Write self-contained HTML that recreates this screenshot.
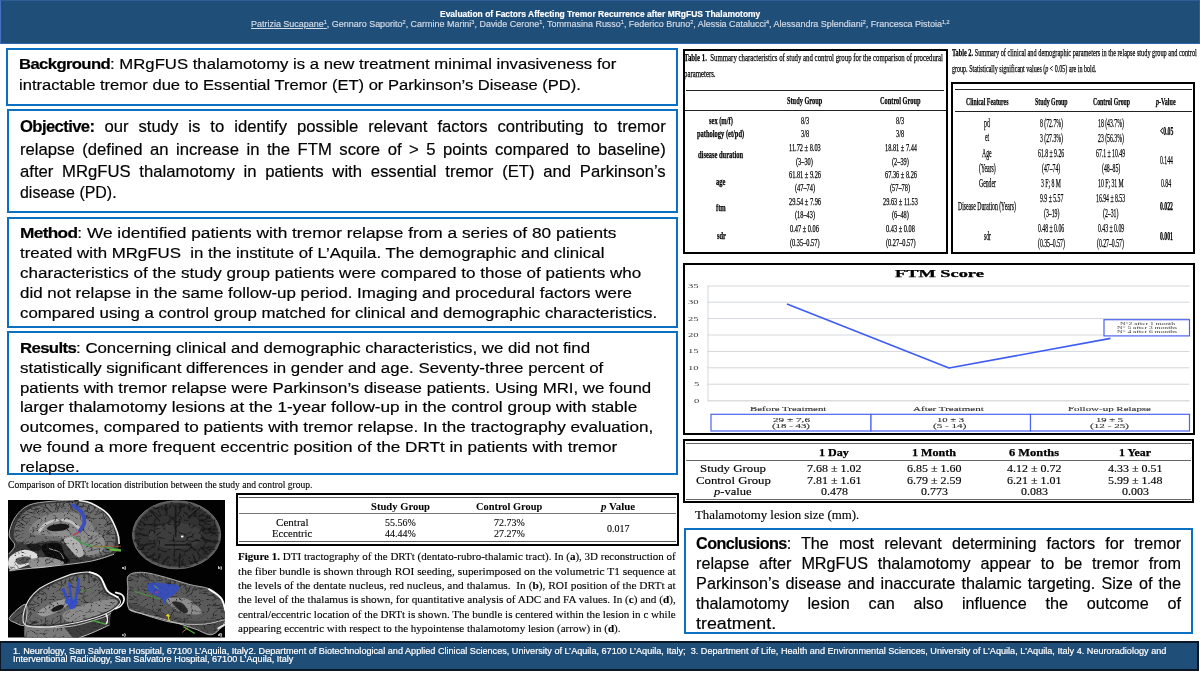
<!DOCTYPE html>
<html lang="en">
<head>
<meta charset="utf-8">
<title>Evaluation of Factors Affecting Tremor Recurrence after MRgFUS Thalamotomy</title>
<style>
html,body{margin:0;padding:0;}
body{width:1200px;height:675px;position:relative;overflow:hidden;background:#fff;font-family:"Liberation Sans",sans-serif;}
.t{position:absolute;white-space:nowrap;line-height:1.2;transform-origin:0 50%;}
.t sup{font-size:62%;line-height:0;vertical-align:baseline;position:relative;top:-0.5em;}
.t b.k{letter-spacing:-0.6px;}
.box{position:absolute;box-sizing:border-box;background:#fff;}
.bb{border:2px solid #0b70c2;}
.kb{border:2px solid #000;}
.hl{position:absolute;height:1px;background:#222;}
#hdr{position:absolute;left:0;top:0;width:1200px;height:43.5px;box-sizing:border-box;background:#1f4e79;border:1px solid #2f5f97;border-left:1.5px solid #4470c0;border-bottom:1.5px solid #3566b4;}
#ftr{position:absolute;left:-1px;top:640.5px;width:1200px;height:30px;box-sizing:border-box;background:#1f4e79;border:2px solid #0c1624;}
svg{position:absolute;overflow:visible;}
</style>
</head>
<body>
<div id="hdr"></div>
<!-- left column boxes -->
<div class="box bb" style="left:6px;top:48px;width:672px;height:58px"></div>
<div class="box bb" style="left:7px;top:109px;width:671px;height:104px"></div>
<div class="box bb" style="left:7px;top:217px;width:671px;height:111px"></div>
<div class="box bb" style="left:7px;top:331.4px;width:671px;height:144px"></div>
<!-- table 1 -->
<div class="box kb" style="left:683px;top:49px;width:265px;height:205px"></div>
<div class="hl" style="left:686px;top:90px;width:258px"></div>
<div class="hl" style="left:685px;top:110px;width:261px"></div>
<!-- table 2 -->
<div class="box kb" style="left:951.3px;top:82.4px;width:243.7px;height:171.7px"></div>
<div class="hl" style="left:955px;top:88.7px;width:236.5px;height:1.4px"></div>
<div class="hl" style="left:955px;top:111.1px;width:236.5px"></div>
<!-- chart -->
<div class="box kb" style="left:683.2px;top:263.2px;width:511.8px;height:171.6px"></div>
<svg style="left:0;top:0" width="1200" height="675" viewBox="0 0 1200 675">
 <g stroke="#d3d7db" stroke-width="1">
  <path d="M707.5 286H1189.5M707.5 302.2H1189.5M707.5 318.6H1189.5M707.5 335H1189.5M707.5 351.4H1189.5M707.5 367.8H1189.5M707.5 384.2H1189.5M708 285.6V401"/>
  <path d="M707.5 400.7H1189.5" stroke="#dcdcdc" stroke-width="1.4"/>
 </g>
 <polyline points="787,304 949,368 1110.5,338.4" fill="none" stroke="#3d5cf5" stroke-width="1.6" stroke-linejoin="round"/>
 <rect x="1104" y="319.7" width="85.5" height="16.2" fill="#fff" stroke="#4a63f0" stroke-width="1.2"/>
 <g fill="#fff" stroke="#4a63f0" stroke-width="1.2">
  <rect x="711" y="414.3" width="160" height="16.7"/>
  <rect x="871" y="414.3" width="159.5" height="16.7"/>
  <rect x="1030.5" y="414.3" width="159" height="16.7"/>
 </g>
</svg>
<!-- lesion table -->
<div class="box kb" style="left:683.4px;top:439.1px;width:510.6px;height:64px"></div>
<div class="hl" style="left:686px;top:443px;width:505px;background:#666"></div>
<div class="hl" style="left:686px;top:460px;width:505px;background:#666"></div>
<div class="hl" style="left:686px;top:499px;width:505px;background:#666"></div>
<!-- conclusions -->
<div class="box bb" style="left:684px;top:528px;width:509px;height:106px"></div>
<!-- DRTt table -->
<div class="box kb" style="left:236px;top:493px;width:443px;height:53px"></div>
<div class="hl" style="left:239px;top:497px;width:437px;background:#555"></div>
<div class="hl" style="left:239px;top:513px;width:437px;background:#777"></div>
<div class="hl" style="left:239px;top:541px;width:437px;background:#555"></div>
<!-- MRI figure -->
<svg style="left:0;top:0" width="1200" height="675" viewBox="0 0 1200 675">
<defs>
<filter id="nz" x="0" y="0" width="100%" height="100%"><feTurbulence type="turbulence" baseFrequency="0.13 0.16" numOctaves="2" seed="11"/><feGaussianBlur stdDeviation="0.4" result="n"/><feColorMatrix in="n" type="matrix" values="0 0 0 0 0  0 0 0 0 0  0 0 0 0 0  -6 0 0 0 0.95" result="a"/><feFlood flood-color="#1c1c1c"/><feComposite in2="a" operator="in" result="dk"/><feMerge><feMergeNode in="SourceGraphic"/><feMergeNode in="dk"/></feMerge><feComposite in2="SourceGraphic" operator="in"/><feGaussianBlur stdDeviation="0.5"/></filter>
<filter id="nzb" x="0" y="0" width="100%" height="100%"><feTurbulence type="turbulence" baseFrequency="0.1 0.12" numOctaves="2" seed="5"/><feGaussianBlur stdDeviation="0.5" result="n"/><feColorMatrix in="n" type="matrix" values="0 0 0 0 0  0 0 0 0 0  0 0 0 0 0  -6 0 0 0 1.1" result="a"/><feFlood flood-color="#171717"/><feComposite in2="a" operator="in" result="dk"/><feMerge><feMergeNode in="SourceGraphic"/><feMergeNode in="dk"/></feMerge><feComposite in2="SourceGraphic" operator="in"/><feGaussianBlur stdDeviation="0.55"/></filter>
<filter id="b5"><feGaussianBlur stdDeviation="0.5"/></filter>
<filter id="b8"><feGaussianBlur stdDeviation="0.9"/></filter>
<clipPath id="mc"><rect x="8" y="500" width="217" height="137.5"/></clipPath>
</defs>
<rect x="8" y="500" width="217" height="137.5" fill="#020202"/>
<g clip-path="url(#mc)">
<g filter="url(#nz)"><path d="M9.1 534.9C9.1 530.3 11.6 522.7 14.8 517.8C18.1 512.9 22.4 508.0 28.5 505.3C34.6 502.5 43.7 502.1 51.3 501.3C58.9 500.4 67.5 499.8 74.1 500.1C80.8 500.4 85.5 500.6 91.2 503.0C96.9 505.4 104.0 509.4 108.3 514.4C112.7 519.3 115.6 527.7 117.4 532.6C119.3 537.6 119.7 540.4 119.2 544.0C118.6 547.6 118.7 551.4 114.0 554.3C109.4 557.1 100.7 559.2 91.2 561.1C81.7 563.0 68.4 564.4 57.0 565.7C45.6 567.0 30.8 568.3 22.8 569.1C14.8 570.0 11.5 573.3 9.1 570.8C6.7 568.4 7.6 558.6 8.6 554.3C9.5 550.0 14.7 548.4 14.8 545.2C14.9 541.9 9.1 539.5 9.1 534.9Z" fill="#383838"/>
<path d="M13.9 533.2C14.2 528.9 16.2 521.6 19.6 517.2C23.0 512.8 28.0 509.1 34.2 506.7C40.4 504.4 49.6 503.7 57.0 503.0C64.4 502.3 72.1 501.8 78.7 502.5C85.2 503.2 91.1 504.4 96.4 507.3C101.6 510.2 106.9 515.3 110.0 520.1C113.2 524.9 114.9 531.1 115.4 536.0C115.9 541.0 114.4 546.7 112.9 549.7C111.3 552.8 109.7 553.2 106.0 554.5C102.4 555.8 96.7 558.4 91.2 557.5C85.7 556.6 78.7 551.9 73.0 549.2C67.3 546.4 63.5 542.1 57.0 541.2C50.6 540.3 40.7 543.5 34.2 543.8C27.7 544.1 21.4 544.9 18.0 543.1C14.6 541.4 13.6 537.5 13.9 533.2Z" fill="#6c6c6c"/>
<path d="M29.6 532.6C26.2 529.6 33.8 522.4 38.8 518.9C43.7 515.5 52.5 512.9 59.3 512.1C66.1 511.3 74.1 511.9 79.8 514.4C85.5 516.9 92.4 523.1 93.5 526.9C94.6 530.7 92.4 535.5 86.7 537.2C81.0 538.9 68.8 537.9 59.3 537.2C49.8 536.4 33.1 535.7 29.6 532.6Z" fill="#858585"/>
<path d="M14.1 532.5Q15.7 530.4 18.7 530.0M15.7 530.4L20.8 531.5M16.4 526.4Q18.8 525.0 22.1 524.9M18.8 525.0L20.7 527.1M18.1 521.5Q20.6 523.1 24.4 525.4M19.7 517.1Q21.9 519.9 25.7 522.2M23.2 514.6Q25.2 515.4 28.8 514.4M27.4 511.7Q31.4 513.2 35.2 513.3M31.3 508.8Q34.0 509.5 37.0 511.5M34.0 509.5L38.6 509.2M34.3 506.7Q35.9 508.3 37.5 509.9M35.9 508.3L40.0 508.4M40.2 505.7Q42.8 506.7 46.2 508.2M44.9 505.0Q46.5 507.3 49.7 511.3M46.5 507.3L51.0 511.9M49.5 504.2Q50.9 504.7 52.4 507.0M56.4 503.1Q56.8 505.6 55.3 510.0M56.8 505.6L57.6 511.4M59.9 502.9Q59.7 505.6 58.3 509.1M59.7 505.6L58.0 507.3M64.8 502.8Q62.8 504.1 62.7 507.2M62.8 504.1L64.1 506.5M69.5 502.7Q71.1 506.0 73.0 510.4M71.1 506.0L70.7 508.7M75.6 502.6Q75.9 503.7 76.1 505.8M78.9 502.6Q77.3 506.9 76.1 509.3M77.3 506.9L74.8 508.8M83.5 503.8Q83.4 506.5 81.7 507.8M83.4 506.5L79.3 506.6M88.9 505.3Q88.9 506.6 87.5 509.3M88.9 506.6L89.6 509.7M95.9 507.2Q93.4 510.7 90.4 513.0M98.5 509.3Q98.3 512.0 96.7 513.1M101.8 512.4Q98.6 514.2 94.8 514.7M106.2 516.5Q104.8 517.7 101.7 517.1M104.8 517.7L104.1 519.4M109.8 519.9Q106.3 523.7 104.3 525.6M110.9 522.8Q108.4 525.1 105.5 526.4M112.7 528.0Q108.5 531.2 106.3 532.9M108.5 531.2L107.9 534.4M114.9 534.6Q110.4 534.4 107.1 533.5M110.4 534.4L109.1 534.9M115.0 538.2Q112.5 538.1 111.9 537.6M112.5 538.1L113.7 538.2M114.3 542.1Q110.7 540.9 107.1 541.6M113.0 549.0Q109.8 550.0 107.1 549.7M109.8 550.0L105.7 549.7M109.1 552.4Q107.5 553.2 105.4 552.4M106.3 554.4Q103.4 552.1 102.2 548.3M103.4 552.1L101.2 550.0M101.5 555.4Q101.1 553.2 99.3 552.2M101.1 553.2L99.3 551.4M96.2 556.5Q94.1 552.9 93.8 550.0M91.5 557.4Q89.4 554.4 89.0 552.4M87.3 555.7Q86.2 552.1 84.5 547.8M82.9 553.7Q83.5 550.5 82.4 548.2M77.1 551.0Q75.6 549.0 75.5 545.9M75.6 549.0L76.3 544.0M74.5 549.9Q71.3 548.0 69.3 544.5M71.3 548.0L69.7 543.7M68.6 547.0Q68.1 544.1 65.9 542.5M64.9 545.1Q63.9 544.5 64.8 542.0M59.2 542.3Q62.0 540.3 66.2 538.0M62.0 540.3L66.6 540.2M54.6 541.5Q56.7 541.6 58.2 541.1M50.1 542.0Q53.3 541.4 54.7 541.2M44.3 542.6Q46.1 541.8 48.9 541.6M39.1 543.2Q41.5 544.1 44.3 543.6M41.5 544.1L43.8 541.2M36.6 543.5Q40.0 542.1 43.0 541.3M30.3 543.6Q32.5 543.5 32.8 541.4M25.4 543.4Q26.4 542.0 28.4 541.7M19.5 543.2Q20.9 542.9 23.3 543.5M17.5 541.9Q21.0 543.3 24.2 542.8M21.0 543.3L24.3 541.1M15.7 537.5Q16.8 535.1 19.4 534.5" fill="none" stroke="#262626" stroke-width="0.7" stroke-linecap="round"/>
<path d="M39.3 531.3C40.3 530.1 42.1 526.3 45.0 524.4C48.0 522.6 52.8 520.6 57.0 520.1C61.2 519.6 66.4 520.1 70.1 521.5C73.8 522.8 77.7 527.0 79.2 528.1" fill="none" stroke="#c2c2c2" stroke-width="2.6" stroke-linecap="round"/>
<ellipse cx="58.2" cy="527.5" rx="11.4" ry="3.6" fill="#181818" transform="rotate(-6 58.2 527.5)"/>
<ellipse cx="61.6" cy="534.3" rx="8.6" ry="3.2" fill="#8e8e8e"/>
<path d="M63.9 539.5C64.4 537.5 70.2 535.9 73.0 536.6C75.7 537.4 78.6 541.1 80.4 544.0C82.2 547.0 84.3 552.1 83.8 554.3C83.3 556.5 79.9 558.1 77.5 557.1C75.2 556.2 71.8 551.5 69.6 548.6C67.3 545.6 63.3 541.5 63.9 539.5Z" fill="#b0b0b0"/>
<path d="M82.1 534.9C84.2 532.6 90.9 530.6 94.6 531.5C98.3 532.3 103.2 536.7 104.3 540.0C105.5 543.4 104.4 549.0 101.5 551.4C98.5 553.9 89.9 555.9 86.7 554.9C83.4 553.8 82.9 548.5 82.1 545.2C81.3 541.8 80.0 537.2 82.1 534.9Z" fill="#8c8c8c"/>
<path d="M84.4 544.0l9 -9M86.7 546.3l11 -8M88.9 548.6l11 -6M87.8 551.4l12 -3" stroke="#3a3a3a" stroke-width="0.7" fill="none"/>
<path d="M42.2 545.2C44.6 543.3 55.6 541.9 59.3 543.5C63.0 545.0 62.7 551.3 64.4 554.3C66.1 557.3 71.2 560.2 69.6 561.7C67.9 563.2 58.8 564.6 54.7 563.4C50.6 562.3 47.1 557.9 45.0 554.9C42.9 551.8 39.8 547.1 42.2 545.2Z" fill="#0e0e0e"/>
<path d="M26.2 545.2C26.8 544.0 35.0 543.5 37.6 544.0C40.3 544.6 42.8 547.5 42.2 548.6C41.6 549.7 36.9 551.4 34.2 550.9C31.5 550.3 25.7 546.3 26.2 545.2Z" fill="#1a1a1a"/>
<path d="M49.0 548.6C50.7 549.2 56.8 550.3 59.3 552.0C61.8 553.7 63.1 557.7 63.9 558.9" fill="none" stroke="#c8c8c8" stroke-width="0.8"/>
<path d="M9.7 557.1C12.0 553.8 19.9 550.1 24.5 549.7C29.2 549.4 36.6 552.6 37.6 554.9C38.7 557.1 35.3 560.9 30.8 563.4C26.3 565.9 14.3 570.7 10.8 569.7C7.3 568.6 7.4 560.5 9.7 557.1Z" fill="#dedede"/>
<path d="M16.0 558.9C17.3 557.5 24.7 556.2 27.4 556.6C30.0 557.0 33.3 559.8 31.9 561.1C30.6 562.5 22.0 564.9 19.4 564.6C16.7 564.2 14.6 560.2 16.0 558.9Z" fill="#5a5a5a"/>
<path d="M29.6 560.0C31.9 558.1 42.2 556.6 47.9 557.1C53.6 557.7 66.1 561.5 63.9 563.4C61.6 565.3 39.9 569.1 34.2 568.5C28.5 568.0 27.4 561.9 29.6 560.0Z" fill="#8f8f8f"/>
</g>
<path d="M78.7 500.5C80.8 500.9 86.3 500.9 91.2 503.2C96.2 505.6 104.0 509.7 108.3 514.6C112.7 519.5 115.6 527.7 117.4 532.6C119.3 537.5 118.9 542.1 119.2 544.0" fill="none" stroke="#f2f2f2" stroke-width="1.6" filter="url(#b5)"/>
<path d="M74.1 500.1C70.3 500.3 58.9 500.4 51.3 501.3C43.7 502.1 34.6 502.5 28.5 505.3C22.4 508.0 18.1 512.9 14.8 517.8C11.6 522.7 9.1 530.3 9.1 534.9C9.1 539.5 14.9 541.9 14.8 545.2C14.7 548.4 9.6 552.8 8.6 554.3" fill="none" stroke="#b8b8b8" stroke-width="0.9" filter="url(#b5)"/>
<path d="M9.1 570.8C11.4 570.5 14.8 570.0 22.8 569.1C30.8 568.3 45.6 567.0 57.0 565.7C68.4 564.4 81.7 563.0 91.2 561.1C100.7 559.2 110.2 555.4 114.0 554.3" fill="none" stroke="#c8c8c8" stroke-width="0.9" filter="url(#b5)"/>
<g filter="url(#b5)"><path d="M73.0 505.3C74.4 506.4 79.6 509.3 81.5 512.1C83.4 515.0 84.7 519.2 84.4 522.4C84.1 525.5 80.6 529.5 79.8 530.9" fill="none" stroke="#3348c6" stroke-width="3.8" opacity="0.9" stroke-linecap="round"/>
<path d="M79.8 531.3C78.7 532.0 74.1 534.9 73.0 535.6" fill="none" stroke="#c43050" stroke-width="1.2"/>
<path d="M73.9 537.4C75.3 538.3 79.2 541.4 82.1 542.9C85.0 544.3 87.4 545.4 91.2 546.1C95.0 546.7 100.0 546.2 104.9 546.9C109.8 547.5 118.2 549.4 120.9 550.0" fill="none" stroke="#3fa14a" stroke-width="1.3"/>
<path d="M91.2 546.5C93.5 546.5 100.0 546.3 104.9 546.3C109.8 546.3 118.2 546.3 120.9 546.3" fill="none" stroke="#c85a3a" stroke-width="0.7"/>
<path d="M109.5 549.5C111.4 549.7 119.0 550.5 120.9 550.6" fill="none" stroke="#6dbb3a" stroke-width="2.2"/></g>
<g filter="url(#nzb)"><ellipse cx="176.6" cy="534.8" rx="44.5" ry="34.3" fill="#585858"/><ellipse cx="176.6" cy="534.8" rx="42" ry="32" fill="#323232"/>
<ellipse cx="175.6" cy="535.8" rx="27" ry="13" fill="#3e3e3e"/>
<path d="M200.4 538.0L216.2 542.8" stroke="#1e1e1e" stroke-width="1.6" fill="none"/>
<path d="M200.3 547.2L208.6 554.5" stroke="#1e1e1e" stroke-width="1.6" fill="none"/>
<path d="M194.1 556.4L195.4 562.9" stroke="#1e1e1e" stroke-width="1.6" fill="none"/>
<path d="M180.0 553.3L179.0 566.4" stroke="#1e1e1e" stroke-width="1.6" fill="none"/>
<path d="M168.7 556.0L162.2 564.4" stroke="#1e1e1e" stroke-width="1.6" fill="none"/>
<path d="M155.4 554.3L147.9 557.3" stroke="#1e1e1e" stroke-width="1.6" fill="none"/>
<path d="M154.8 543.0L138.5 546.3" stroke="#1e1e1e" stroke-width="1.6" fill="none"/>
<path d="M148.0 535.6L135.7 533.4" stroke="#1e1e1e" stroke-width="1.6" fill="none"/>
<path d="M146.0 525.2L140.0 520.6" stroke="#1e1e1e" stroke-width="1.6" fill="none"/>
<path d="M159.8 521.3L150.6 510.4" stroke="#1e1e1e" stroke-width="1.6" fill="none"/>
<path d="M166.8 514.0L165.7 504.3" stroke="#1e1e1e" stroke-width="1.6" fill="none"/>
<path d="M178.9 509.4L182.7 503.5" stroke="#1e1e1e" stroke-width="1.6" fill="none"/>
<path d="M188.0 518.3L198.6 508.2" stroke="#1e1e1e" stroke-width="1.6" fill="none"/>
<path d="M199.1 521.2L210.8 517.4" stroke="#1e1e1e" stroke-width="1.6" fill="none"/>
<path d="M208.6 528.6L217.0 529.6" stroke="#1e1e1e" stroke-width="1.6" fill="none"/>
<path d="M175.6 504.79999999999995V536.8M164.6 544.8H190.6M190.6 546.8l6 4" stroke="#1d1d1d" stroke-width="1.8" fill="none"/>
<path d="M217.4 535.8Q214.7 534.4 211.1 532.4M216.0 543.3Q213.5 542.3 210.3 540.4M213.9 547.1Q209.8 546.6 205.8 547.9M209.8 546.6L207.7 546.7M210.9 551.5Q207.4 548.7 204.5 546.4M207.4 548.7L202.2 548.3M207.8 554.6Q206.2 553.5 206.1 551.0M202.7 558.4Q201.1 555.6 198.6 554.2M195.4 562.2Q194.8 557.9 192.5 554.2M190.6 563.7Q190.2 562.8 189.3 560.3M190.2 562.8L190.1 562.3M185.8 564.9Q182.8 563.4 180.7 560.4M181.2 565.3Q182.0 562.8 183.4 558.9M173.6 565.5Q175.8 562.8 177.3 559.6M167.6 564.9Q168.2 563.2 168.0 561.4M163.4 563.9Q162.8 562.4 163.9 559.8M157.7 562.1Q159.0 557.8 159.0 553.4M159.0 557.8L160.7 554.0M152.9 559.8Q152.6 556.1 154.2 552.5M152.6 556.1L153.5 554.4M147.6 556.7Q149.7 556.3 152.2 555.4M149.7 556.3L151.8 557.8M143.5 552.7Q146.3 553.1 148.3 552.4M140.5 549.3Q142.4 549.1 142.8 547.1M142.4 549.1L144.0 546.7M137.5 543.7Q140.2 543.7 142.3 544.7M136.6 540.3Q139.5 538.6 140.9 538.4M135.7 534.5Q136.5 535.0 139.0 536.7M137.0 527.0Q138.6 528.5 141.7 530.7M138.6 528.5L144.1 529.0M138.9 523.3Q141.3 524.0 141.7 525.7M142.9 517.5Q144.6 518.3 144.9 520.3M145.4 515.0Q146.1 515.7 148.0 518.2M146.1 515.7L147.2 520.6M151.6 510.6Q154.6 512.6 158.9 515.7M157.6 507.5Q158.4 512.4 161.0 515.7M162.1 506.1Q161.6 507.2 162.3 509.7M161.6 507.2L162.5 509.9M166.5 504.8Q167.2 507.9 166.8 512.8M167.2 507.9L165.4 511.5M172.9 504.2Q174.2 506.9 176.1 510.1M179.8 504.1Q181.4 506.0 181.1 509.0M181.4 506.0L179.6 510.7M184.7 504.6Q181.7 506.3 180.5 508.8M189.1 505.5Q189.1 507.8 189.3 510.7M189.1 507.8L187.5 508.4M195.8 507.5Q192.9 508.9 191.5 511.0M201.1 510.3Q198.1 512.9 195.0 516.7M205.2 512.6Q201.1 514.4 198.9 516.4M208.2 515.4Q206.8 517.1 206.3 519.1M206.8 517.1L207.0 517.4M212.5 520.0Q210.3 521.5 206.3 521.2M210.3 521.5L205.5 521.3M215.6 525.6Q211.2 527.1 208.0 528.7M211.2 527.1L209.9 529.2M217.2 532.5Q214.2 533.3 210.8 535.9" fill="none" stroke="#1b1b1b" stroke-width="0.9" stroke-linecap="round"/>
</g>
<ellipse cx="176.6" cy="534.8" rx="44" ry="34" fill="none" stroke="#686868" stroke-width="1" filter="url(#b5)"/>
<rect x="181" y="535.6" width="2.4" height="1.8" fill="#fff"/>
<g filter="url(#nz)"><path d="M23.9 624.3 L68.4 624.9 L102.6 616.3 L111.2 611.8 L110.0 624.3 L93.5 632.3 L78.7 638.0 L23.9 638.0Z" fill="#3c3c3c"/><path d="M24.5 626.6 L63.9 627.1 L73.0 638.0 L24.5 638.0Z" fill="#7a7a7a"/>
<path d="M9.7 617.5C11.5 614.4 23.1 603.2 25.7 604.3C28.2 605.5 26.7 621.3 24.9 624.3C23.1 627.3 17.4 623.7 14.8 622.6C12.3 621.4 7.9 620.5 9.7 617.5Z" fill="#4a4a4a"/>
<path d="M23.9 623.2C21.7 619.4 23.9 610.4 26.2 604.9C28.5 599.4 32.5 594.3 37.6 590.1C42.8 585.9 50.9 582.6 57.0 579.8C63.1 577.1 68.4 574.8 74.1 573.6C79.8 572.3 86.8 571.7 91.2 572.4C95.6 573.1 97.7 574.4 100.3 577.5C103.0 580.7 104.1 587.8 107.2 591.2C110.2 594.6 116.6 595.8 118.6 598.1C120.6 600.3 121.8 602.1 119.2 604.9C116.5 607.8 111.1 611.9 102.6 615.2C94.2 618.4 78.9 622.3 68.4 624.3C58.0 626.3 47.3 627.3 39.9 627.1C32.5 627.0 26.2 626.9 23.9 623.2Z" fill="#3a3a3a"/>
<path d="M26.8 622.0C24.9 618.8 26.9 610.5 29.1 605.5C31.3 600.4 35.1 595.7 39.9 591.8C44.8 587.9 52.4 584.5 58.2 581.9C63.9 579.2 69.3 577.0 74.7 575.8C80.1 574.6 86.7 574.1 90.6 574.7C94.6 575.3 96.3 576.3 98.6 579.3C101.0 582.2 102.1 589.0 104.9 592.4C107.8 595.7 113.8 597.2 115.7 599.2C117.6 601.2 118.7 602.0 116.3 604.3C113.9 606.7 109.5 610.5 101.5 613.5C93.5 616.4 78.6 620.1 68.4 622.0C58.2 623.9 47.4 624.9 40.5 624.9C33.5 624.9 28.7 625.2 26.8 622.0Z" fill="#686868"/>
<path d="M27.2 619.4Q30.1 616.5 31.9 613.3M27.6 616.2Q30.0 613.5 31.0 612.0M30.0 613.5L29.9 613.0M28.6 609.0Q30.6 608.6 32.9 610.1M29.8 604.6Q31.3 604.2 33.0 605.5M31.3 604.2L35.1 604.4M32.9 600.6Q35.5 603.1 39.1 604.0M36.4 596.2Q37.3 595.5 39.0 594.7M37.3 595.5L37.0 595.5M38.9 593.0Q41.7 594.3 44.2 594.8M41.7 594.3L43.9 593.0M41.5 590.9Q43.1 591.7 45.4 593.4M46.0 588.5Q48.3 588.6 48.9 590.2M51.6 585.4Q53.4 586.9 55.7 587.4M56.0 583.0Q58.2 584.2 61.6 585.5M60.7 580.9Q61.6 584.4 63.7 585.9M66.0 579.0Q65.3 581.2 65.2 584.2M65.3 581.2L64.2 583.3M69.3 577.8Q69.6 580.3 70.4 582.1M69.6 580.3L72.2 583.6M74.4 575.9Q72.8 578.7 72.9 579.5M72.8 578.7L70.4 581.3M78.5 575.6Q76.9 577.8 76.4 581.0M84.7 575.1Q84.9 577.3 84.2 580.3M84.9 577.3L85.7 578.3M88.8 574.8Q88.9 579.3 89.2 582.8M95.9 577.7Q94.9 578.6 93.2 581.6M94.9 578.6L94.5 582.0M98.8 579.7Q96.7 579.8 93.7 580.4M96.7 579.8L93.1 578.9M100.4 583.0Q99.1 584.8 97.9 585.6M103.7 589.9Q101.8 591.3 98.2 593.1M104.9 592.4Q102.3 592.0 97.8 590.2M110.1 595.6Q106.6 595.2 102.8 594.4M114.0 598.1Q113.2 598.7 110.9 598.8M116.1 602.0Q114.2 602.6 110.9 603.7M114.2 602.6L110.5 605.4M114.2 605.6Q113.4 605.3 111.7 603.9M113.4 605.3L112.9 602.8M109.9 608.3Q108.1 608.2 105.6 607.9M103.4 612.3Q101.8 610.8 98.3 607.5M100.5 613.7Q98.2 612.8 94.7 610.3M94.7 615.2Q91.2 614.4 89.0 613.0M91.2 614.4L86.6 615.3M89.2 616.6Q88.5 616.2 86.6 614.7M88.5 616.2L88.1 616.4M85.1 617.7Q83.1 616.4 82.8 615.4M80.0 619.0Q77.1 616.4 76.0 613.3M77.1 616.4L73.5 611.8M74.6 620.4Q74.0 618.7 73.5 617.5M70.3 621.5Q71.5 618.3 73.4 614.6M71.5 618.3L72.2 612.6M64.4 622.4Q65.9 619.0 65.8 616.0M65.9 619.0L64.5 615.9M60.8 622.8Q61.1 619.9 60.8 615.5M54.7 623.4Q57.4 622.5 60.4 620.2M51.6 623.7Q52.1 622.6 52.7 620.1M44.2 624.5Q45.6 622.5 48.0 620.1M45.6 622.5L45.5 619.5M40.1 624.8Q43.1 625.0 44.4 623.9M43.1 625.0L45.8 626.1M33.9 623.5Q36.3 623.0 38.6 622.0M31.2 622.9Q33.2 622.4 36.9 622.7M33.2 622.4L36.7 620.6" fill="none" stroke="#262626" stroke-width="0.7" stroke-linecap="round"/>
<path d="M37.6 612.9C38.0 611.0 43.5 607.2 47.9 604.9C52.3 602.6 60.1 599.6 63.9 599.2C67.7 598.8 71.5 600.7 70.7 602.6C69.9 604.5 63.5 608.3 59.3 610.6C55.1 612.9 49.2 615.9 45.6 616.3C42.0 616.7 37.2 614.8 37.6 612.9Z" fill="#989898"/>
<ellipse cx="57.6" cy="608.3" rx="6.8" ry="2.5" fill="#151515" transform="rotate(-22 57.6 608.3)"/>
<path d="M63.9 612.9C67.3 609.7 82.9 604.9 91.2 602.6C99.6 600.3 109.8 598.8 114.0 599.2C118.2 599.6 118.6 602.4 116.3 604.9C114.0 607.4 107.9 611.2 100.3 614.0C92.7 616.9 76.8 622.2 70.7 622.0C64.6 621.8 60.4 616.1 63.9 612.9Z" fill="#8a8a8a"/>
</g>
<path d="M23.9 623.2C21.7 619.4 23.9 610.4 26.2 604.9C28.5 599.4 32.5 594.3 37.6 590.1C42.8 585.9 50.9 582.6 57.0 579.8C63.1 577.1 68.4 574.8 74.1 573.6C79.8 572.3 86.8 571.7 91.2 572.4C95.6 573.1 97.7 574.4 100.3 577.5C103.0 580.7 104.1 587.8 107.2 591.2C110.2 594.6 116.6 595.8 118.6 598.1C120.6 600.3 121.8 602.1 119.2 604.9C116.5 607.8 111.1 611.9 102.6 615.2C94.2 618.4 78.9 622.3 68.4 624.3C58.0 626.3 47.3 627.3 39.9 627.1C32.5 627.0 26.2 626.9 23.9 623.2Z" fill="none" stroke="#e8e8e8" stroke-width="1.1" filter="url(#b5)"/>
<path d="M88.9 572.1C90.8 572.9 97.2 573.8 100.3 577.0C103.5 580.1 104.7 587.6 107.8 591.0C110.8 594.4 116.8 596.4 118.6 597.5" fill="none" stroke="#fff" stroke-width="1.6" filter="url(#b5)"/>
<path d="M9.7 617.5C11.5 614.4 23.1 603.2 25.7 604.3C28.2 605.5 26.7 621.3 24.9 624.3C23.1 627.3 17.4 623.7 14.8 622.6C12.3 621.4 7.9 620.5 9.7 617.5Z" fill="none" stroke="#d0d0d0" stroke-width="0.9" filter="url(#b5)"/>
<path d="M24.5 626.0C31.8 626.1 55.4 628.0 68.4 626.6C81.4 625.1 95.5 619.7 102.6 617.5C109.7 615.2 109.7 613.7 111.2 612.9" fill="none" stroke="#ddd" stroke-width="0.8" filter="url(#b5)"/>
<path d="M78.7 638.0C81.1 637.0 88.4 634.5 93.5 632.3C98.6 630.1 106.8 626.1 109.5 624.9" fill="none" stroke="#ddd" stroke-width="0.9" filter="url(#b5)"/>
<path d="M106.0 614.0C106.3 615.0 107.8 618.0 107.8 619.7C107.8 621.4 106.3 623.5 106.0 624.3" fill="none" stroke="#eee" stroke-width="1.6" filter="url(#b5)"/>
<g filter="url(#b5)" stroke="#2f4cd2" fill="none" stroke-linecap="round" opacity="0.88"><path d="M63.3 589.5C63.9 591.1 66.0 596.2 67.3 599.2C68.5 602.2 70.1 606.3 70.7 607.8" stroke-width="3"/><path d="M69.3 583.8C69.6 585.6 70.2 590.7 70.7 594.6C71.2 598.6 72.1 605.6 72.4 607.8" stroke-width="2.6"/><path d="M78.7 579.3C78.5 581.1 78.3 585.4 77.5 590.1C76.8 594.7 74.7 604.3 74.1 607.2" stroke-width="2.8"/><path d="M67.3 601.5C68.6 601.7 73.9 602.4 75.3 602.6" stroke-width="5"/></g>
<path d="M91.2 620.3C92.4 620.6 95.6 621.3 98.1 622.0C100.5 622.7 104.7 623.9 106.0 624.3" fill="none" stroke="#4aa83a" stroke-width="1.3" filter="url(#b5)"/>
<path d="M79.8 591.8C81.5 591.3 88.4 589.4 90.1 588.9" fill="none" stroke="#4aa83a" stroke-width="0.6" filter="url(#b5)"/>
<g filter="url(#nz)"><path d="M128.7 575.3C131.3 572.7 137.2 572.0 143.5 572.4C149.8 572.8 158.7 575.5 166.3 577.5C173.9 579.5 181.9 582.5 189.1 584.4C196.3 586.3 204.3 586.7 209.6 588.9C215.0 591.2 218.4 594.5 221.0 598.1C223.7 601.7 224.7 606.6 225.4 610.6C226.0 614.6 227.3 618.0 225.0 622.0C222.8 626.0 217.0 633.4 211.9 634.6C206.9 635.7 201.8 631.1 194.8 628.9C187.8 626.6 178.3 623.3 169.7 620.9C161.2 618.4 150.3 616.1 143.5 614.0C136.7 611.9 131.3 612.7 128.7 608.3C126.1 604.0 127.8 593.3 127.8 587.8C127.8 582.3 126.1 577.8 128.7 575.3Z" fill="#5a5a5a"/>
<path d="M131.3 575.4Q135.3 575.7 138.2 577.2M137.0 574.4Q139.6 575.4 144.2 576.7M141.2 573.6Q143.8 576.3 147.1 578.1M143.8 576.3L149.5 580.4M146.7 573.6Q146.9 575.1 149.0 577.7M153.2 575.2Q153.7 576.3 155.5 577.9M159.8 576.8Q162.1 578.9 162.7 580.4M165.2 578.1Q165.4 580.3 167.2 581.8M170.8 579.7Q170.2 583.4 169.6 585.2M170.2 583.4L169.0 585.4M175.1 581.1Q175.0 582.4 175.0 584.9M175.0 582.4L173.4 584.0M180.3 582.8Q180.2 585.0 180.2 586.6M180.2 585.0L179.1 586.3M185.7 584.4Q185.2 588.3 186.4 590.7M185.2 588.3L188.0 588.4M190.3 585.6Q189.6 588.0 187.8 592.0M189.6 588.0L188.9 591.6M195.3 586.6Q193.9 588.2 192.3 590.3M193.9 588.2L192.1 592.8M202.1 587.9Q198.2 588.6 194.7 589.8M205.4 588.6Q203.7 588.9 201.6 589.1M210.3 590.6Q205.9 591.4 203.2 591.4M205.9 591.4L204.5 593.8M214.6 593.9Q212.9 595.6 209.3 595.6M212.9 595.6L207.5 595.1M220.5 599.4Q218.6 599.2 215.0 597.7M222.2 604.1Q219.3 605.7 215.7 605.7M219.3 605.7L213.3 604.9M223.6 608.2Q222.2 608.0 220.3 608.2M222.2 608.0L218.3 608.5M224.3 613.1Q223.4 611.0 220.9 610.4M223.4 611.0L222.3 610.5M224.2 619.8Q223.6 618.5 221.6 617.0M223.6 618.5L220.8 615.9M220.9 624.6Q218.6 624.2 215.8 622.4M217.7 627.7Q216.2 625.2 213.1 623.2M212.5 632.6Q210.8 631.2 208.5 630.3M208.9 633.1Q206.4 632.8 203.5 630.5M203.4 631.2Q201.2 629.1 198.9 626.7M201.2 629.1L200.7 628.7M196.9 628.9Q195.2 626.3 194.5 621.8M195.2 626.3L192.5 621.8M193.6 627.8Q190.6 625.6 189.1 623.8M190.6 625.6L191.3 621.7M187.2 625.6Q186.1 623.6 185.6 622.1M186.1 623.6L185.9 622.4M182.1 623.9Q181.2 620.2 180.4 618.1M177.1 622.2Q177.9 620.1 178.6 618.9M170.7 620.1Q173.0 617.1 173.6 615.1M166.6 619.1Q166.9 617.0 169.0 616.3M161.9 617.9Q163.9 617.9 165.3 616.3M154.3 616.1Q157.0 615.5 161.5 614.9M157.0 615.5L161.2 616.0M149.5 614.9Q150.0 614.0 152.2 612.2M146.2 614.1Q148.4 611.9 148.7 611.4M138.4 611.4Q140.6 609.8 143.5 607.6M140.6 609.8L141.7 609.6M134.3 609.9Q137.9 611.4 139.8 612.2M137.9 611.4L137.3 614.6M129.6 606.9Q132.8 608.2 136.6 608.6M129.5 603.4Q133.4 604.0 137.1 603.5M133.4 604.0L136.7 603.5M129.1 596.2Q131.6 597.6 133.8 598.9M128.9 590.5Q131.8 590.4 133.3 591.0M128.9 586.0Q130.0 587.3 131.4 589.2M129.4 578.9Q131.9 579.1 133.5 579.5M131.9 579.1L131.6 580.6" fill="none" stroke="#262626" stroke-width="0.7" stroke-linecap="round"/>
<path d="M166.3 599.2C167.8 597.5 178.7 597.3 183.4 598.1C188.2 598.8 191.8 601.3 194.8 603.8C197.9 606.2 202.8 611.2 201.7 612.9C200.5 614.6 192.5 614.8 188.0 614.0C183.4 613.3 177.9 610.8 174.3 608.3C170.7 605.9 164.8 600.9 166.3 599.2Z" fill="#8c8c8c"/>
<path d="M172.0 602.6C171.6 600.9 178.5 601.3 181.1 602.6C183.8 604.0 187.6 608.9 188.0 610.6C188.4 612.3 186.1 614.2 183.4 612.9C180.8 611.6 172.4 604.3 172.0 602.6Z" fill="#2a2a2a"/>
<path d="M129.8 606.0C133.1 607.8 141.8 610.6 149.2 612.9C156.6 615.2 166.7 617.5 174.3 619.7C181.9 622.0 188.5 624.5 194.8 626.6C201.1 628.7 207.0 633.0 211.9 632.3C216.9 631.5 222.4 624.3 224.5 622.0C226.6 619.7 229.4 618.8 224.5 618.6C219.5 618.4 205.5 621.8 194.8 620.9C184.2 619.9 171.4 615.9 160.6 612.9C149.8 609.8 135.0 603.8 129.8 602.6C124.7 601.5 126.6 604.3 129.8 606.0Z" fill="#484848"/>
</g>
<path d="M128.7 575.3C131.3 572.7 137.2 572.0 143.5 572.4C149.8 572.8 158.7 575.5 166.3 577.5C173.9 579.5 181.9 582.5 189.1 584.4C196.3 586.3 204.3 586.7 209.6 588.9C215.0 591.2 218.4 594.5 221.0 598.1C223.7 601.7 224.7 606.6 225.4 610.6C226.0 614.6 227.3 618.0 225.0 622.0C222.8 626.0 217.0 633.4 211.9 634.6C206.9 635.7 201.8 631.1 194.8 628.9C187.8 626.6 178.3 623.3 169.7 620.9C161.2 618.4 150.3 616.1 143.5 614.0C136.7 611.9 131.3 612.7 128.7 608.3C126.1 604.0 127.8 593.3 127.8 587.8C127.8 582.3 126.1 577.8 128.7 575.3Z" fill="none" stroke="#bdbdbd" stroke-width="0.9" filter="url(#b5)"/>
<path d="M208.5 588.9C210.6 590.5 218.2 594.5 221.0 598.1C223.9 601.7 224.7 608.5 225.4 610.6" fill="none" stroke="#fff" stroke-width="1.8" filter="url(#b5)"/>
<path d="M128.7 609.5C135.5 611.6 157.6 619.5 169.7 622.0C181.9 624.5 192.4 624.7 201.7 624.3C210.9 623.9 221.1 620.5 225.0 619.7" fill="none" stroke="#c8c8c8" stroke-width="0.9" filter="url(#b5)"/>
<path d="M217.6 628.9C218.9 628.1 223.8 625.1 225.0 624.3" fill="none" stroke="#ddd" stroke-width="2" filter="url(#b5)"/>
<path d="M115.0 592.4C116.1 592.7 120.3 593.4 121.8 594.6C123.4 595.9 124.3 597.9 124.1 599.8C123.9 601.7 122.2 604.5 120.7 606.0C119.2 607.6 116.0 608.4 115.0 608.9" fill="none" stroke="#f4f4f4" stroke-width="1.7" filter="url(#b5)"/>
<g filter="url(#b5)"><path d="M148.1 583.8C150.3 582.4 157.7 582.9 162.9 583.2C168.1 583.6 177.3 584.4 179.4 586.1C181.5 587.8 177.5 591.3 175.4 593.5C173.3 595.7 168.7 597.4 166.9 599.2C165.1 601.0 165.6 604.5 164.6 604.3C163.6 604.1 163.2 600.2 160.6 598.1C158.0 596.0 151.3 594.2 149.2 591.8C147.1 589.4 145.8 585.2 148.1 583.8Z" fill="#2f4cd2" opacity="0.78"/>
<path d="M134.4 591.5C136.9 592.2 144.8 594.5 149.2 595.8C153.6 597.1 158.7 598.6 160.6 599.2" fill="none" stroke="#4aa83a" stroke-width="0.8"/>
<path d="M153.8 585.5C154.5 586.1 157.6 588.4 158.3 588.9" fill="none" stroke="#5ab04a" stroke-width="1"/>
<path d="M154.9 592.4C155.5 592.3 157.8 591.9 158.3 591.8" fill="none" stroke="#d03060" stroke-width="1.2"/>
<path d="M183.4 626.6C184.4 627.1 187.2 628.9 189.1 630.0C191.0 631.1 193.9 632.8 194.8 633.4" fill="none" stroke="#58a83a" stroke-width="1.4"/>
<path d="M182.3 632.3C183.2 631.5 187.0 628.5 188.0 627.7" fill="none" stroke="#b07a50" stroke-width="1"/>
<path d="M165.7 616.1 L168.0 613.8 L170.3 616.5 L168.6 616.5 L170.0 621.8 L169.0 621.8 L167.7 616.5Z" fill="#f0dc20"/></g>
</g>
</svg>
<div id="ftr"></div>
<div class="t" style="left:440.20px;top:8.70px;font-family:'Liberation Sans', sans-serif;font-size:8.7px;color:#ffffff;font-weight:bold;-webkit-text-stroke:0.18px #ffffff;transform:scaleX(0.9738);">Evaluation of Factors Affecting Tremor Recurrence after MRgFUS Thalamotomy</div>
<div class="t" style="left:250.80px;top:18.80px;font-family:'Liberation Sans', sans-serif;font-size:8.7px;color:#d3dbe6;-webkit-text-stroke:0.18px #d3dbe6;transform:scaleX(1.0313);"><u>Patrizia Sucapane<sup>1</sup></u>, Gennaro Saporito<sup>2</sup>, Carmine Marini<sup>3</sup>, Davide Cerone<sup>1</sup>, Tommasina Russo<sup>1</sup>, Federico Bruno<sup>2</sup>, Alessia Catalucci<sup>4</sup>, Alessandra Splendiani<sup>2</sup>, Francesca Pistoia<sup>1,2</sup></div>
<div class="t" style="left:18.90px;top:55.40px;font-family:'Liberation Sans', sans-serif;font-size:15.5px;color:#000;-webkit-text-stroke:0.18px #000;transform:scaleX(1.0785);"><b class="k">Background</b>: MRgFUS thalamotomy is a new treatment minimal invasiveness for</div>
<div class="t" style="left:18.90px;top:75.80px;font-family:'Liberation Sans', sans-serif;font-size:15.5px;color:#000;-webkit-text-stroke:0.18px #000;transform:scaleX(1.0682);">intractable tremor due to Essential Tremor (ET) or Parkinson’s Disease (PD).</div>
<div class="t" style="left:20.10px;top:116.70px;font-family:'Liberation Sans', sans-serif;font-size:16.2px;color:#000;-webkit-text-stroke:0.18px #000;word-spacing:5.186px;transform:scaleX(1.03);"><b class="k">Objective:</b> our study is to identify possible relevant factors contributing to tremor</div>
<div class="t" style="left:20.10px;top:140.30px;font-family:'Liberation Sans', sans-serif;font-size:16.2px;color:#000;-webkit-text-stroke:0.18px #000;word-spacing:2.777px;transform:scaleX(1.03);">relapse (defined an increase in the FTM score of &gt; 5 points compared to baseline)</div>
<div class="t" style="left:20.10px;top:162.00px;font-family:'Liberation Sans', sans-serif;font-size:16.2px;color:#000;-webkit-text-stroke:0.18px #000;word-spacing:3.971px;transform:scaleX(1.03);">after MRgFUS thalamotomy in patients with essential tremor (ET) and Parkinson’s</div>
<div class="t" style="left:20.10px;top:183.30px;font-family:'Liberation Sans', sans-serif;font-size:16.2px;color:#000;-webkit-text-stroke:0.18px #000;transform:scaleX(0.985);">disease (PD).</div>
<div class="t" style="left:20.10px;top:224.30px;font-family:'Liberation Sans', sans-serif;font-size:15.5px;color:#000;-webkit-text-stroke:0.18px #000;transform:scaleX(1.1140);"><b class="k">Method</b>: We identified patients with tremor relapse from a series of 80 patients</div>
<div class="t" style="left:20.10px;top:244.20px;font-family:'Liberation Sans', sans-serif;font-size:15.5px;color:#000;-webkit-text-stroke:0.18px #000;transform:scaleX(1.0858);">treated with MRgFUS&nbsp; in the institute of L’Aquila. The demographic and clinical</div>
<div class="t" style="left:20.10px;top:264.30px;font-family:'Liberation Sans', sans-serif;font-size:15.5px;color:#000;-webkit-text-stroke:0.18px #000;transform:scaleX(1.0991);">characteristics of the study group patients were compared to those of patients who</div>
<div class="t" style="left:20.10px;top:284.30px;font-family:'Liberation Sans', sans-serif;font-size:15.5px;color:#000;-webkit-text-stroke:0.18px #000;transform:scaleX(1.0928);">did not relapse in the same follow-up period. Imaging and procedural factors were</div>
<div class="t" style="left:20.10px;top:304.40px;font-family:'Liberation Sans', sans-serif;font-size:15.5px;color:#000;-webkit-text-stroke:0.18px #000;transform:scaleX(1.0860);">compared using a control group matched for clinical and demographic characteristics.</div>
<div class="t" style="left:20.10px;top:339.10px;font-family:'Liberation Sans', sans-serif;font-size:15.5px;color:#000;-webkit-text-stroke:0.18px #000;transform:scaleX(1.0826);"><b class="k">Results</b>: Concerning clinical and demographic characteristics, we did not find</div>
<div class="t" style="left:20.10px;top:358.70px;font-family:'Liberation Sans', sans-serif;font-size:15.5px;color:#000;-webkit-text-stroke:0.18px #000;transform:scaleX(1.0888);">statistically significant differences in gender and age. Seventy-three percent of</div>
<div class="t" style="left:20.10px;top:378.60px;font-family:'Liberation Sans', sans-serif;font-size:15.5px;color:#000;-webkit-text-stroke:0.18px #000;transform:scaleX(1.0859);">patients with tremor relapse were Parkinson’s disease patients. Using MRI, we found</div>
<div class="t" style="left:20.10px;top:398.30px;font-family:'Liberation Sans', sans-serif;font-size:15.5px;color:#000;-webkit-text-stroke:0.18px #000;transform:scaleX(1.1072);">larger thalamotomy lesions at the 1-year follow-up in the control group with stable</div>
<div class="t" style="left:20.10px;top:418.20px;font-family:'Liberation Sans', sans-serif;font-size:15.5px;color:#000;-webkit-text-stroke:0.18px #000;transform:scaleX(1.1035);">outcomes, compared to patients with tremor relapse. In the tractography evaluation,</div>
<div class="t" style="left:20.10px;top:437.90px;font-family:'Liberation Sans', sans-serif;font-size:15.5px;color:#000;-webkit-text-stroke:0.18px #000;transform:scaleX(1.1061);">we found a more frequent eccentric position of the DRTt in patients with tremor</div>
<div class="t" style="left:20.10px;top:457.50px;font-family:'Liberation Sans', sans-serif;font-size:15.5px;color:#000;-webkit-text-stroke:0.18px #000;transform:scaleX(1.08);">relapse.</div>
<div class="t" style="left:696.10px;top:533.50px;font-family:'Liberation Sans', sans-serif;font-size:16.2px;color:#000;-webkit-text-stroke:0.18px #000;word-spacing:5.625px;transform:scaleX(1.0);"><b class="k">Conclusions</b>: The most relevant determining factors for tremor</div>
<div class="t" style="left:696.10px;top:553.50px;font-family:'Liberation Sans', sans-serif;font-size:16.2px;color:#000;-webkit-text-stroke:0.18px #000;word-spacing:5.408px;transform:scaleX(1.0);">relapse after MRgFUS thalamotomy appear to be tremor from</div>
<div class="t" style="left:696.10px;top:573.50px;font-family:'Liberation Sans', sans-serif;font-size:16.2px;color:#000;-webkit-text-stroke:0.18px #000;word-spacing:1.611px;transform:scaleX(1.0);">Parkinson’s disease and inaccurate thalamic targeting. Size of the</div>
<div class="t" style="left:696.10px;top:593.60px;font-family:'Liberation Sans', sans-serif;font-size:16.2px;color:#000;-webkit-text-stroke:0.18px #000;word-spacing:14.268px;transform:scaleX(1.0);">thalamotomy lesion can also influence the outcome of</div>
<div class="t" style="left:696.10px;top:613.50px;font-family:'Liberation Sans', sans-serif;font-size:16.2px;color:#000;-webkit-text-stroke:0.18px #000;transform:scaleX(1.1);">treatment.</div>
<div class="t" style="left:12.60px;top:645.60px;font-family:'Liberation Sans', sans-serif;font-size:8.7px;color:#ffffff;-webkit-text-stroke:0.18px #ffffff;transform:scaleX(1.0491);">1. Neurology, San Salvatore Hospital, 67100 L’Aquila, Italy2. Department of Biotechnological and Applied Clinical Sciences, University of L’Aquila, 67100 L’Aquila, Italy;&nbsp; 3. Department of Life, Health and Environmental Sciences, University of L'Aquila, L'Aquila, Italy 4. Neuroradiology and</div>
<div class="t" style="left:12.60px;top:653.80px;font-family:'Liberation Sans', sans-serif;font-size:8.7px;color:#ffffff;-webkit-text-stroke:0.18px #ffffff;transform:scaleX(1.0441);">Interventional Radiology, San Salvatore Hospital, 67100 L'Aquila, Italy</div>
<div class="t" style="left:684.30px;top:51.20px;font-family:'Liberation Serif', serif;font-size:11.3px;color:#000;-webkit-text-stroke:0.25px #000;transform:scaleX(0.6036);"><b>Table 1.</b>&nbsp; Summary characteristics of study and control group for the comparison of procedural</div>
<div class="t" style="left:684.30px;top:66.50px;font-family:'Liberation Serif', serif;font-size:11.3px;color:#000;-webkit-text-stroke:0.25px #000;transform:scaleX(0.6014);">parameters.</div>
<div class="t" style="left:786.90px;top:93.60px;font-family:'Liberation Serif', serif;font-size:10.8px;color:#000;font-weight:bold;-webkit-text-stroke:0.25px #000;transform:scaleX(0.5854);">Study Group</div>
<div class="t" style="left:880.25px;top:93.60px;font-family:'Liberation Serif', serif;font-size:10.8px;color:#000;font-weight:bold;-webkit-text-stroke:0.25px #000;transform:scaleX(0.5878);">Control Group</div>
<div class="t" style="left:709.07px;top:114.80px;font-family:'Liberation Serif', serif;font-size:10.5px;color:#000;font-weight:bold;-webkit-text-stroke:0.25px #000;transform:scaleX(0.615);">sex (m/f)</div>
<div class="t" style="left:697.41px;top:128.40px;font-family:'Liberation Serif', serif;font-size:10.5px;color:#000;font-weight:bold;-webkit-text-stroke:0.25px #000;transform:scaleX(0.615);">pathology (et/pd)</div>
<div class="t" style="left:698.49px;top:148.50px;font-family:'Liberation Serif', serif;font-size:10.5px;color:#000;font-weight:bold;-webkit-text-stroke:0.25px #000;transform:scaleX(0.615);">disease duration</div>
<div class="t" style="left:716.33px;top:175.70px;font-family:'Liberation Serif', serif;font-size:10.5px;color:#000;font-weight:bold;-webkit-text-stroke:0.25px #000;transform:scaleX(0.615);">age</div>
<div class="t" style="left:716.16px;top:202.30px;font-family:'Liberation Serif', serif;font-size:10.5px;color:#000;font-weight:bold;-webkit-text-stroke:0.25px #000;transform:scaleX(0.615);">ftm</div>
<div class="t" style="left:716.51px;top:229.60px;font-family:'Liberation Serif', serif;font-size:10.5px;color:#000;font-weight:bold;-webkit-text-stroke:0.25px #000;transform:scaleX(0.615);">sdr</div>
<div class="t" style="left:800.65px;top:114.80px;font-family:'Liberation Serif', serif;font-size:10.3px;color:#000;-webkit-text-stroke:0.25px #000;transform:scaleX(0.615);">8/3</div>
<div class="t" style="left:896.45px;top:114.80px;font-family:'Liberation Serif', serif;font-size:10.3px;color:#000;-webkit-text-stroke:0.25px #000;transform:scaleX(0.615);">8/3</div>
<div class="t" style="left:800.65px;top:128.30px;font-family:'Liberation Serif', serif;font-size:10.3px;color:#000;-webkit-text-stroke:0.25px #000;transform:scaleX(0.615);">3/8</div>
<div class="t" style="left:896.45px;top:128.30px;font-family:'Liberation Serif', serif;font-size:10.3px;color:#000;-webkit-text-stroke:0.25px #000;transform:scaleX(0.615);">3/8</div>
<div class="t" style="left:788.83px;top:142.00px;font-family:'Liberation Serif', serif;font-size:10.3px;color:#000;-webkit-text-stroke:0.25px #000;transform:scaleX(0.615);">11.72 ± 8.03</div>
<div class="t" style="left:884.51px;top:142.00px;font-family:'Liberation Serif', serif;font-size:10.3px;color:#000;-webkit-text-stroke:0.25px #000;transform:scaleX(0.615);">18.81 ± 7.44</div>
<div class="t" style="left:796.26px;top:155.70px;font-family:'Liberation Serif', serif;font-size:10.3px;color:#000;-webkit-text-stroke:0.25px #000;transform:scaleX(0.615);">(3–30)</div>
<div class="t" style="left:892.06px;top:155.70px;font-family:'Liberation Serif', serif;font-size:10.3px;color:#000;-webkit-text-stroke:0.25px #000;transform:scaleX(0.615);">(2–39)</div>
<div class="t" style="left:788.71px;top:169.00px;font-family:'Liberation Serif', serif;font-size:10.3px;color:#000;-webkit-text-stroke:0.25px #000;transform:scaleX(0.615);">61.81 ± 9.26</div>
<div class="t" style="left:884.51px;top:169.00px;font-family:'Liberation Serif', serif;font-size:10.3px;color:#000;-webkit-text-stroke:0.25px #000;transform:scaleX(0.615);">67.36 ± 8.26</div>
<div class="t" style="left:794.67px;top:182.30px;font-family:'Liberation Serif', serif;font-size:10.3px;color:#000;-webkit-text-stroke:0.25px #000;transform:scaleX(0.615);">(47–74)</div>
<div class="t" style="left:890.47px;top:182.30px;font-family:'Liberation Serif', serif;font-size:10.3px;color:#000;-webkit-text-stroke:0.25px #000;transform:scaleX(0.615);">(57–78)</div>
<div class="t" style="left:788.71px;top:196.00px;font-family:'Liberation Serif', serif;font-size:10.3px;color:#000;-webkit-text-stroke:0.25px #000;transform:scaleX(0.615);">29.54 ± 7.96</div>
<div class="t" style="left:883.04px;top:196.00px;font-family:'Liberation Serif', serif;font-size:10.3px;color:#000;-webkit-text-stroke:0.25px #000;transform:scaleX(0.615);">29.63 ± 11.53</div>
<div class="t" style="left:794.67px;top:209.30px;font-family:'Liberation Serif', serif;font-size:10.3px;color:#000;-webkit-text-stroke:0.25px #000;transform:scaleX(0.615);">(18–43)</div>
<div class="t" style="left:892.06px;top:209.30px;font-family:'Liberation Serif', serif;font-size:10.3px;color:#000;-webkit-text-stroke:0.25px #000;transform:scaleX(0.615);">(6–48)</div>
<div class="t" style="left:790.30px;top:223.00px;font-family:'Liberation Serif', serif;font-size:10.3px;color:#000;-webkit-text-stroke:0.25px #000;transform:scaleX(0.615);">0.47 ± 0.06</div>
<div class="t" style="left:886.10px;top:223.00px;font-family:'Liberation Serif', serif;font-size:10.3px;color:#000;-webkit-text-stroke:0.25px #000;transform:scaleX(0.615);">0.43 ± 0.08</div>
<div class="t" style="left:789.93px;top:236.50px;font-family:'Liberation Serif', serif;font-size:10.3px;color:#000;-webkit-text-stroke:0.25px #000;transform:scaleX(0.615);">(0.35–0.57)</div>
<div class="t" style="left:885.73px;top:236.50px;font-family:'Liberation Serif', serif;font-size:10.3px;color:#000;-webkit-text-stroke:0.25px #000;transform:scaleX(0.615);">(0.27–0.57)</div>
<div class="t" style="left:952.40px;top:45.90px;font-family:'Liberation Serif', serif;font-size:10.8px;color:#000;-webkit-text-stroke:0.25px #000;transform:scaleX(0.5825);"><b>Table 2.</b> Summary of clinical and demographic parameters in the relapse study group and control</div>
<div class="t" style="left:952.40px;top:61.80px;font-family:'Liberation Serif', serif;font-size:10.8px;color:#000;-webkit-text-stroke:0.25px #000;transform:scaleX(0.5606);">group. Statistically significant values (<i>p</i> &lt; 0.05) are in bold.</div>
<div class="t" style="left:966.00px;top:94.60px;font-family:'Liberation Serif', serif;font-size:11px;color:#000;font-weight:bold;-webkit-text-stroke:0.25px #000;transform:scaleX(0.5290);">Clinical Features</div>
<div class="t" style="left:1035.00px;top:94.60px;font-family:'Liberation Serif', serif;font-size:11px;color:#000;font-weight:bold;-webkit-text-stroke:0.25px #000;transform:scaleX(0.5322);">Study Group</div>
<div class="t" style="left:1092.50px;top:94.60px;font-family:'Liberation Serif', serif;font-size:11px;color:#000;font-weight:bold;-webkit-text-stroke:0.25px #000;transform:scaleX(0.5270);">Control Group</div>
<div class="t" style="left:1156.40px;top:94.60px;font-family:'Liberation Serif', serif;font-size:11px;color:#000;font-weight:bold;-webkit-text-stroke:0.25px #000;transform:scaleX(0.5497);"><i>p</i>-Value</div>
<div class="t" style="left:984.33px;top:116.60px;font-family:'Liberation Serif', serif;font-size:11.5px;color:#000;-webkit-text-stroke:0.25px #000;transform:scaleX(0.5);">pd</div>
<div class="t" style="left:985.12px;top:131.40px;font-family:'Liberation Serif', serif;font-size:11.5px;color:#000;-webkit-text-stroke:0.25px #000;transform:scaleX(0.5);">et</div>
<div class="t" style="left:982.41px;top:146.60px;font-family:'Liberation Serif', serif;font-size:11.5px;color:#000;-webkit-text-stroke:0.25px #000;transform:scaleX(0.5);">Age</div>
<div class="t" style="left:978.87px;top:161.60px;font-family:'Liberation Serif', serif;font-size:11.5px;color:#000;-webkit-text-stroke:0.25px #000;transform:scaleX(0.5);">(Years)</div>
<div class="t" style="left:978.74px;top:176.70px;font-family:'Liberation Serif', serif;font-size:11.5px;color:#000;-webkit-text-stroke:0.25px #000;transform:scaleX(0.5);">Gender</div>
<div class="t" style="left:958.27px;top:199.90px;font-family:'Liberation Serif', serif;font-size:11.5px;color:#000;-webkit-text-stroke:0.25px #000;transform:scaleX(0.5);">Disease Duration (Years)</div>
<div class="t" style="left:983.68px;top:230.10px;font-family:'Liberation Serif', serif;font-size:11.5px;color:#000;-webkit-text-stroke:0.25px #000;transform:scaleX(0.5);">sdr</div>
<div class="t" style="left:1039.90px;top:116.60px;font-family:'Liberation Serif', serif;font-size:11.5px;color:#000;-webkit-text-stroke:0.25px #000;transform:scaleX(0.5);">8 (72.7%)</div>
<div class="t" style="left:1097.86px;top:116.60px;font-family:'Liberation Serif', serif;font-size:11.5px;color:#000;-webkit-text-stroke:0.25px #000;transform:scaleX(0.5);">18 (43.7%)</div>
<div class="t" style="left:1039.90px;top:131.50px;font-family:'Liberation Serif', serif;font-size:11.5px;color:#000;-webkit-text-stroke:0.25px #000;transform:scaleX(0.5);">3 (27.3%)</div>
<div class="t" style="left:1097.86px;top:131.50px;font-family:'Liberation Serif', serif;font-size:11.5px;color:#000;-webkit-text-stroke:0.25px #000;transform:scaleX(0.5);">23 (56.3%)</div>
<div class="t" style="left:1038.32px;top:146.60px;font-family:'Liberation Serif', serif;font-size:11.5px;color:#000;-webkit-text-stroke:0.25px #000;transform:scaleX(0.5);">61.8 ± 9.26</div>
<div class="t" style="left:1096.28px;top:146.60px;font-family:'Liberation Serif', serif;font-size:11.5px;color:#000;-webkit-text-stroke:0.25px #000;transform:scaleX(0.5);">67.1 ± 10.49</div>
<div class="t" style="left:1042.29px;top:161.60px;font-family:'Liberation Serif', serif;font-size:11.5px;color:#000;-webkit-text-stroke:0.25px #000;transform:scaleX(0.5);">(47–74)</div>
<div class="t" style="left:1101.69px;top:161.60px;font-family:'Liberation Serif', serif;font-size:11.5px;color:#000;-webkit-text-stroke:0.25px #000;transform:scaleX(0.5);">(48–85)</div>
<div class="t" style="left:1041.41px;top:176.70px;font-family:'Liberation Serif', serif;font-size:11.5px;color:#000;-webkit-text-stroke:0.25px #000;transform:scaleX(0.5);">3 F; 8 M</div>
<div class="t" style="left:1097.94px;top:176.70px;font-family:'Liberation Serif', serif;font-size:11.5px;color:#000;-webkit-text-stroke:0.25px #000;transform:scaleX(0.5);">10 F; 31 M</div>
<div class="t" style="left:1039.76px;top:191.80px;font-family:'Liberation Serif', serif;font-size:11.5px;color:#000;-webkit-text-stroke:0.25px #000;transform:scaleX(0.5);">9.9 ± 5.57</div>
<div class="t" style="left:1096.28px;top:191.80px;font-family:'Liberation Serif', serif;font-size:11.5px;color:#000;-webkit-text-stroke:0.25px #000;transform:scaleX(0.5);">16.94 ± 8.53</div>
<div class="t" style="left:1043.73px;top:206.90px;font-family:'Liberation Serif', serif;font-size:11.5px;color:#000;-webkit-text-stroke:0.25px #000;transform:scaleX(0.5);">(3–19)</div>
<div class="t" style="left:1103.13px;top:206.90px;font-family:'Liberation Serif', serif;font-size:11.5px;color:#000;-webkit-text-stroke:0.25px #000;transform:scaleX(0.5);">(2–31)</div>
<div class="t" style="left:1038.32px;top:221.90px;font-family:'Liberation Serif', serif;font-size:11.5px;color:#000;-webkit-text-stroke:0.25px #000;transform:scaleX(0.5);">0.48 ± 0.06</div>
<div class="t" style="left:1097.72px;top:221.90px;font-family:'Liberation Serif', serif;font-size:11.5px;color:#000;-webkit-text-stroke:0.25px #000;transform:scaleX(0.5);">0.43 ± 0.09</div>
<div class="t" style="left:1037.98px;top:237.00px;font-family:'Liberation Serif', serif;font-size:11.5px;color:#000;-webkit-text-stroke:0.25px #000;transform:scaleX(0.5);">(0.35–0.57)</div>
<div class="t" style="left:1097.38px;top:237.00px;font-family:'Liberation Serif', serif;font-size:11.5px;color:#000;-webkit-text-stroke:0.25px #000;transform:scaleX(0.5);">(0.27–0.57)</div>
<div class="t" style="left:1159.63px;top:124.70px;font-family:'Liberation Serif', serif;font-size:11.5px;color:#000;font-weight:bold;-webkit-text-stroke:0.25px #000;transform:scaleX(0.5);">&lt;0.05</div>
<div class="t" style="left:1159.83px;top:153.90px;font-family:'Liberation Serif', serif;font-size:11.5px;color:#000;-webkit-text-stroke:0.25px #000;transform:scaleX(0.5);">0.144</div>
<div class="t" style="left:1161.27px;top:176.90px;font-family:'Liberation Serif', serif;font-size:11.5px;color:#000;-webkit-text-stroke:0.25px #000;transform:scaleX(0.5);">0.84</div>
<div class="t" style="left:1159.83px;top:199.90px;font-family:'Liberation Serif', serif;font-size:11.5px;color:#000;font-weight:bold;-webkit-text-stroke:0.25px #000;transform:scaleX(0.5);">0.022</div>
<div class="t" style="left:1159.83px;top:230.10px;font-family:'Liberation Serif', serif;font-size:11.5px;color:#000;font-weight:bold;-webkit-text-stroke:0.25px #000;transform:scaleX(0.5);">0.001</div>
<div class="t" style="left:894.70px;top:268.30px;font-family:'Liberation Serif', serif;font-size:10px;color:#000;font-weight:bold;-webkit-text-stroke:0.25px #000;transform:scaleX(1.8339);">FTM Score</div>
<div class="t" style="left:688.31px;top:283.10px;font-family:'Liberation Serif', serif;font-size:5.3px;color:#3a3a3a;transform:scaleX(2.0);">35</div>
<div class="t" style="left:688.31px;top:299.10px;font-family:'Liberation Serif', serif;font-size:5.3px;color:#3a3a3a;transform:scaleX(2.0);">30</div>
<div class="t" style="left:688.31px;top:315.50px;font-family:'Liberation Serif', serif;font-size:5.3px;color:#3a3a3a;transform:scaleX(2.0);">25</div>
<div class="t" style="left:688.31px;top:331.90px;font-family:'Liberation Serif', serif;font-size:5.3px;color:#3a3a3a;transform:scaleX(2.0);">20</div>
<div class="t" style="left:688.31px;top:348.30px;font-family:'Liberation Serif', serif;font-size:5.3px;color:#3a3a3a;transform:scaleX(2.0);">15</div>
<div class="t" style="left:688.31px;top:364.70px;font-family:'Liberation Serif', serif;font-size:5.3px;color:#3a3a3a;transform:scaleX(2.0);">10</div>
<div class="t" style="left:693.59px;top:381.10px;font-family:'Liberation Serif', serif;font-size:5.3px;color:#3a3a3a;transform:scaleX(2.0);">5</div>
<div class="t" style="left:693.59px;top:397.50px;font-family:'Liberation Serif', serif;font-size:5.3px;color:#3a3a3a;transform:scaleX(2.0);">0</div>
<div class="t" style="left:749.80px;top:404.60px;font-family:'Liberation Serif', serif;font-size:6.4px;color:#2e2e2e;-webkit-text-stroke:0.1px #2e2e2e;transform:scaleX(1.7013);">Before Treatment</div>
<div class="t" style="left:913.35px;top:404.60px;font-family:'Liberation Serif', serif;font-size:6.4px;color:#2e2e2e;-webkit-text-stroke:0.1px #2e2e2e;transform:scaleX(1.7244);">After Treatment</div>
<div class="t" style="left:1067.70px;top:404.60px;font-family:'Liberation Serif', serif;font-size:6.4px;color:#2e2e2e;-webkit-text-stroke:0.1px #2e2e2e;transform:scaleX(1.7124);">Follow-up Relapse</div>
<div class="t" style="left:772.80px;top:415.80px;font-family:'Liberation Serif', serif;font-size:6.2px;color:#2e2e2e;-webkit-text-stroke:0.1px #2e2e2e;transform:scaleX(1.8118);">29 ± 7,6</div>
<div class="t" style="left:772.00px;top:422.40px;font-family:'Liberation Serif', serif;font-size:6.2px;color:#2e2e2e;-webkit-text-stroke:0.1px #2e2e2e;transform:scaleX(1.7547);">(18 - 43)</div>
<div class="t" style="left:936.80px;top:415.80px;font-family:'Liberation Serif', serif;font-size:6.2px;color:#2e2e2e;-webkit-text-stroke:0.1px #2e2e2e;transform:scaleX(1.7236);">10 ± 3</div>
<div class="t" style="left:933.30px;top:422.40px;font-family:'Liberation Serif', serif;font-size:6.2px;color:#2e2e2e;-webkit-text-stroke:0.1px #2e2e2e;transform:scaleX(1.7993);">(5 - 14)</div>
<div class="t" style="left:1096.00px;top:415.80px;font-family:'Liberation Serif', serif;font-size:6.2px;color:#2e2e2e;-webkit-text-stroke:0.1px #2e2e2e;transform:scaleX(1.7109);">19 ± 5</div>
<div class="t" style="left:1089.80px;top:422.40px;font-family:'Liberation Serif', serif;font-size:6.2px;color:#2e2e2e;-webkit-text-stroke:0.1px #2e2e2e;transform:scaleX(1.8009);">(12 - 25)</div>
<div class="t" style="left:1119.50px;top:322.00px;font-family:'Liberation Serif', serif;font-size:3.6px;color:#333;transform:scaleX(2.1078);">N°2 after 1 month</div>
<div class="t" style="left:1116.50px;top:325.80px;font-family:'Liberation Serif', serif;font-size:3.6px;color:#333;transform:scaleX(2.1134);">N° 5 after 3 months</div>
<div class="t" style="left:1116.50px;top:329.80px;font-family:'Liberation Serif', serif;font-size:3.6px;color:#333;transform:scaleX(2.1134);">N° 4 after 6 months</div>
<div class="t" style="left:819.15px;top:446.80px;font-family:'Liberation Serif', serif;font-size:9.6px;color:#000;font-weight:bold;-webkit-text-stroke:0.25px #000;transform:scaleX(1.2522);">1 Day</div>
<div class="t" style="left:912.00px;top:446.80px;font-family:'Liberation Serif', serif;font-size:9.6px;color:#000;font-weight:bold;-webkit-text-stroke:0.25px #000;transform:scaleX(1.2600);">1 Month</div>
<div class="t" style="left:1009.40px;top:446.80px;font-family:'Liberation Serif', serif;font-size:9.6px;color:#000;font-weight:bold;-webkit-text-stroke:0.25px #000;transform:scaleX(1.2935);">6 Months</div>
<div class="t" style="left:1119.00px;top:446.80px;font-family:'Liberation Serif', serif;font-size:9.6px;color:#000;font-weight:bold;-webkit-text-stroke:0.25px #000;transform:scaleX(1.2293);">1 Year</div>
<div class="t" style="left:700.20px;top:462.20px;font-family:'Liberation Serif', serif;font-size:10.7px;color:#000;-webkit-text-stroke:0.15px #000;transform:scaleX(1.2014);">Study Group</div>
<div class="t" style="left:695.80px;top:473.90px;font-family:'Liberation Serif', serif;font-size:10.7px;color:#000;-webkit-text-stroke:0.15px #000;transform:scaleX(1.1941);">Control Group</div>
<div class="t" style="left:714.45px;top:484.90px;font-family:'Liberation Serif', serif;font-size:10.7px;color:#000;-webkit-text-stroke:0.15px #000;transform:scaleX(1.1702);"><i>p</i>-value</div>
<div class="t" style="left:806.77px;top:463.20px;font-family:'Liberation Serif', serif;font-size:10.5px;color:#000;-webkit-text-stroke:0.15px #000;transform:scaleX(1.14);">7.68 ± 1.02</div>
<div class="t" style="left:906.77px;top:463.20px;font-family:'Liberation Serif', serif;font-size:10.5px;color:#000;-webkit-text-stroke:0.15px #000;transform:scaleX(1.14);">6.85 ± 1.60</div>
<div class="t" style="left:1007.17px;top:463.20px;font-family:'Liberation Serif', serif;font-size:10.5px;color:#000;-webkit-text-stroke:0.15px #000;transform:scaleX(1.14);">4.12 ± 0.72</div>
<div class="t" style="left:1107.77px;top:463.20px;font-family:'Liberation Serif', serif;font-size:10.5px;color:#000;-webkit-text-stroke:0.15px #000;transform:scaleX(1.14);">4.33 ± 0.51</div>
<div class="t" style="left:806.77px;top:474.90px;font-family:'Liberation Serif', serif;font-size:10.5px;color:#000;-webkit-text-stroke:0.15px #000;transform:scaleX(1.14);">7.81 ± 1.61</div>
<div class="t" style="left:906.77px;top:474.90px;font-family:'Liberation Serif', serif;font-size:10.5px;color:#000;-webkit-text-stroke:0.15px #000;transform:scaleX(1.14);">6.79 ± 2.59</div>
<div class="t" style="left:1007.17px;top:474.90px;font-family:'Liberation Serif', serif;font-size:10.5px;color:#000;-webkit-text-stroke:0.15px #000;transform:scaleX(1.14);">6.21 ± 1.01</div>
<div class="t" style="left:1107.77px;top:474.90px;font-family:'Liberation Serif', serif;font-size:10.5px;color:#000;-webkit-text-stroke:0.15px #000;transform:scaleX(1.14);">5.99 ± 1.48</div>
<div class="t" style="left:820.53px;top:485.90px;font-family:'Liberation Serif', serif;font-size:10.5px;color:#000;-webkit-text-stroke:0.15px #000;transform:scaleX(1.14);">0.478</div>
<div class="t" style="left:920.53px;top:485.90px;font-family:'Liberation Serif', serif;font-size:10.5px;color:#000;-webkit-text-stroke:0.15px #000;transform:scaleX(1.14);">0.773</div>
<div class="t" style="left:1020.93px;top:485.90px;font-family:'Liberation Serif', serif;font-size:10.5px;color:#000;-webkit-text-stroke:0.15px #000;transform:scaleX(1.14);">0.083</div>
<div class="t" style="left:1121.53px;top:485.90px;font-family:'Liberation Serif', serif;font-size:10.5px;color:#000;-webkit-text-stroke:0.15px #000;transform:scaleX(1.14);">0.003</div>
<div class="t" style="left:694.70px;top:507.10px;font-family:'Liberation Serif', serif;font-size:13.4px;color:#000;-webkit-text-stroke:0.15px #000;transform:scaleX(0.9604);">Thalamotomy lesion size (mm).</div>
<div class="t" style="left:7.80px;top:478.70px;font-family:'Liberation Serif', serif;font-size:9.6px;color:#000;-webkit-text-stroke:0.12px #000;transform:scaleX(0.9965);">Comparison of DRTt location distribution between the study and control group.</div>
<div class="t" style="left:371.10px;top:501.80px;font-family:'Liberation Serif', serif;font-size:9.4px;color:#000;font-weight:bold;-webkit-text-stroke:0.05px #000;transform:scaleX(1.1302);">Study Group</div>
<div class="t" style="left:476.15px;top:501.80px;font-family:'Liberation Serif', serif;font-size:9.4px;color:#000;font-weight:bold;-webkit-text-stroke:0.05px #000;transform:scaleX(1.1082);">Control Group</div>
<div class="t" style="left:600.90px;top:501.80px;font-family:'Liberation Serif', serif;font-size:9.4px;color:#000;font-weight:bold;-webkit-text-stroke:0.05px #000;transform:scaleX(1.1550);"><i>p</i> Value</div>
<div class="t" style="left:275.90px;top:516.90px;font-family:'Liberation Serif', serif;font-size:9.8px;color:#000;-webkit-text-stroke:0.1px #000;transform:scaleX(1.1302);">Central</div>
<div class="t" style="left:272.10px;top:528.10px;font-family:'Liberation Serif', serif;font-size:9.8px;color:#000;-webkit-text-stroke:0.1px #000;transform:scaleX(1.0869);">Eccentric</div>
<div class="t" style="left:385.25px;top:516.90px;font-family:'Liberation Serif', serif;font-size:9.6px;color:#000;-webkit-text-stroke:0.1px #000;transform:scaleX(1.0379);">55.56%</div>
<div class="t" style="left:385.25px;top:528.10px;font-family:'Liberation Serif', serif;font-size:9.6px;color:#000;-webkit-text-stroke:0.1px #000;transform:scaleX(1.0379);">44.44%</div>
<div class="t" style="left:493.95px;top:516.90px;font-family:'Liberation Serif', serif;font-size:9.6px;color:#000;-webkit-text-stroke:0.1px #000;transform:scaleX(1.0379);">72.73%</div>
<div class="t" style="left:493.95px;top:528.10px;font-family:'Liberation Serif', serif;font-size:9.6px;color:#000;-webkit-text-stroke:0.1px #000;transform:scaleX(1.0379);">27.27%</div>
<div class="t" style="left:606.65px;top:523.30px;font-family:'Liberation Serif', serif;font-size:9.6px;color:#000;-webkit-text-stroke:0.1px #000;transform:scaleX(1.0420);">0.017</div>
<div class="t" style="left:237.70px;top:551.40px;font-family:'Liberation Serif', serif;font-size:10.1px;color:#000;-webkit-text-stroke:0.12px #000;transform:scaleX(1.0911);"><b>Figure 1.</b> DTI tractography of the DRTt (dentato-rubro-thalamic tract). In (<b>a</b>), 3D reconstruction of</div>
<div class="t" style="left:237.70px;top:565.60px;font-family:'Liberation Serif', serif;font-size:10.1px;color:#000;-webkit-text-stroke:0.12px #000;transform:scaleX(1.1311);">the fiber bundle is shown through ROI seeding, superimposed on the volumetric T1 sequence at</div>
<div class="t" style="left:237.70px;top:580.20px;font-family:'Liberation Serif', serif;font-size:10.1px;color:#000;-webkit-text-stroke:0.12px #000;transform:scaleX(1.1283);">the levels of the dentate nucleus, red nucleus, and thalamus.&nbsp; In (<b>b</b>), ROI position of the DRTt at</div>
<div class="t" style="left:237.70px;top:594.40px;font-family:'Liberation Serif', serif;font-size:10.1px;color:#000;-webkit-text-stroke:0.12px #000;transform:scaleX(1.1086);">the level of the thalamus is shown, for quantitative analysis of ADC and FA values. In (<b>c</b>) and (<b>d</b>),</div>
<div class="t" style="left:237.70px;top:608.60px;font-family:'Liberation Serif', serif;font-size:10.1px;color:#000;-webkit-text-stroke:0.12px #000;transform:scaleX(1.0964);">central/eccentric location of the DRTt is shown. The bundle is centered within the lesion in c while</div>
<div class="t" style="left:237.70px;top:622.70px;font-family:'Liberation Serif', serif;font-size:10.1px;color:#000;-webkit-text-stroke:0.12px #000;transform:scaleX(1.0934);">appearing eccentric with respect to the hypointense thalamotomy lesion (arrow) in (<b>d</b>).</div>
<div class="t" style="left:122.00px;top:566.30px;font-family:'Liberation Sans', sans-serif;font-size:4px;color:#eee;-webkit-text-stroke:0.18px #eee;transform:scaleX(1.1);">a)</div>
<div class="t" style="left:218.00px;top:566.30px;font-family:'Liberation Sans', sans-serif;font-size:4px;color:#eee;-webkit-text-stroke:0.18px #eee;transform:scaleX(1.1);">b)</div>
<div class="t" style="left:122.00px;top:632.80px;font-family:'Liberation Sans', sans-serif;font-size:4px;color:#eee;-webkit-text-stroke:0.18px #eee;transform:scaleX(1.1);">c)</div>
<div class="t" style="left:218.00px;top:632.80px;font-family:'Liberation Sans', sans-serif;font-size:4px;color:#eee;-webkit-text-stroke:0.18px #eee;transform:scaleX(1.1);">d)</div>
</body>
</html>
